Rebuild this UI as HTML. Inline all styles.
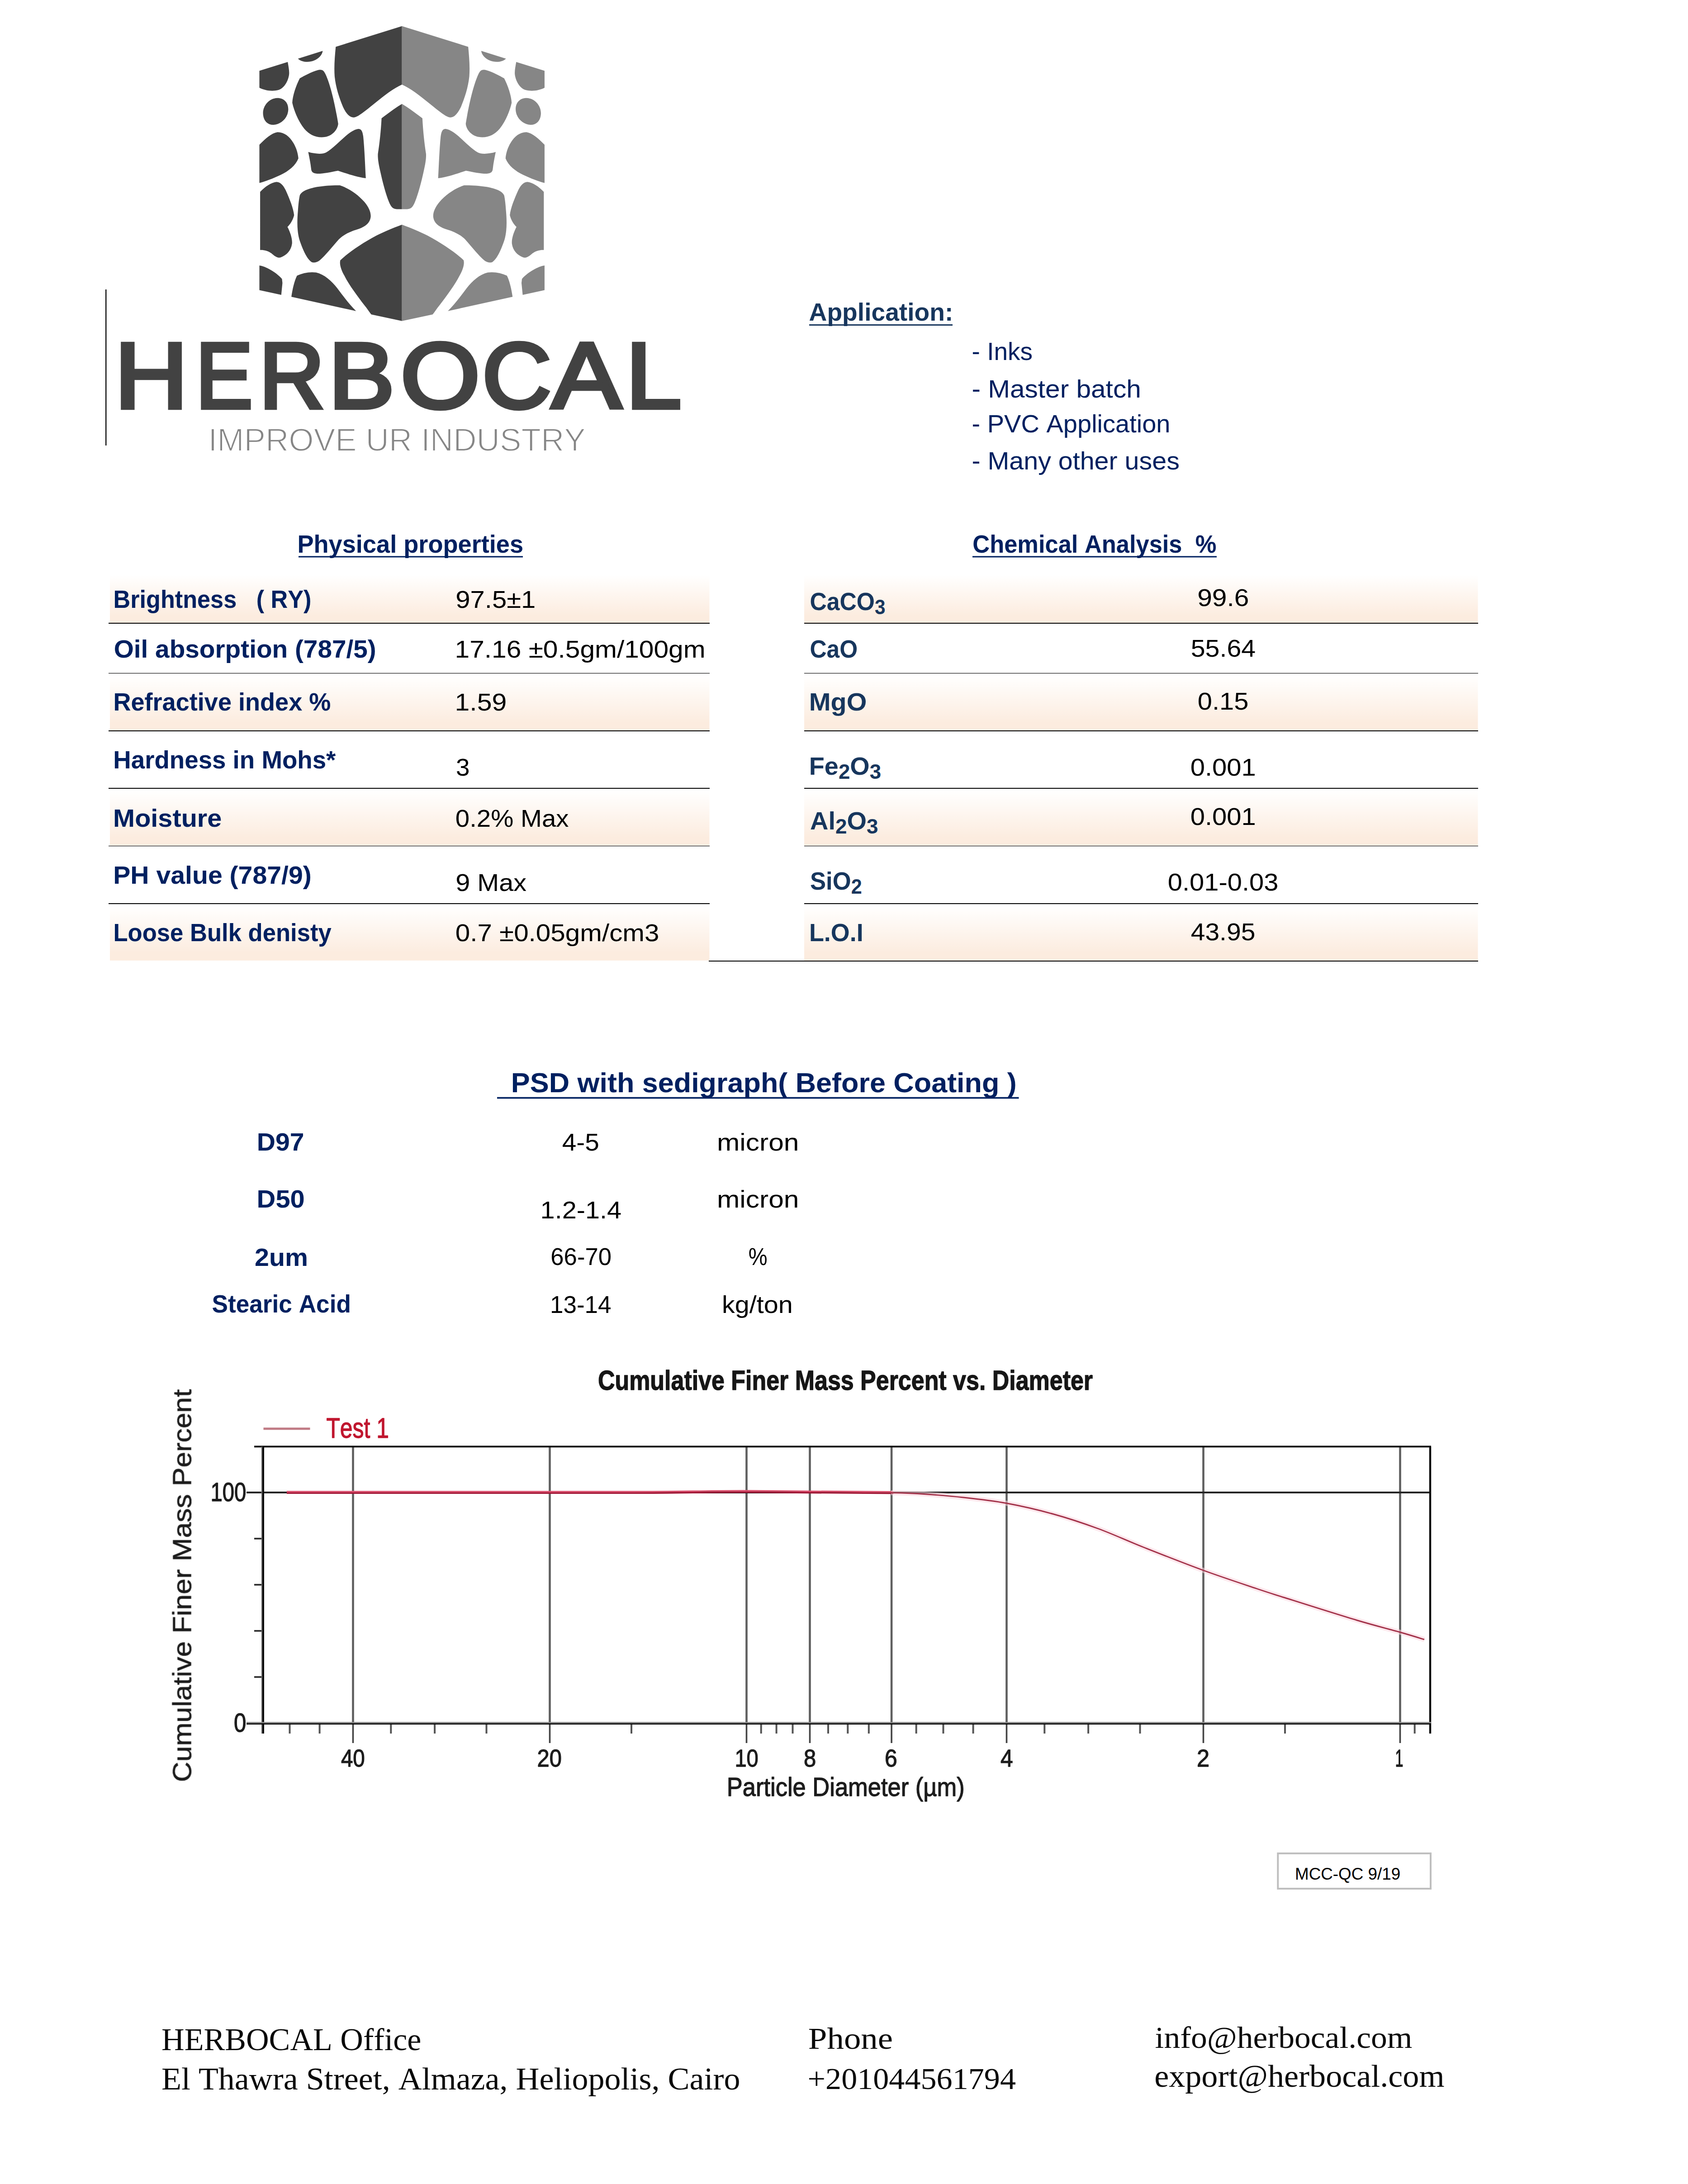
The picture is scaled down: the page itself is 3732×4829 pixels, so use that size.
<!DOCTYPE html>
<html lang="en"><head><meta charset="utf-8"><title>HERBOCAL data sheet</title>
<style>
html,body{margin:0;padding:0;background:#fff}
body{width:3732px;height:4829px;position:relative;overflow:hidden}
svg{position:absolute;left:0;top:0;display:block}
text{font-family:"Liberation Sans",sans-serif;font-kerning:none;white-space:pre}
text.sf{font-family:"Liberation Serif",serif}
.ch text{paint-order:stroke;stroke-width:1.3px;stroke-linejoin:round}
</style></head><body>
<svg width="3732" height="4829" viewBox="0 0 3732 4829">
<defs>
<linearGradient id="gr" x1="0" y1="0" x2="0" y2="1"><stop offset="0" stop-color="#ffffff"/><stop offset="0.06" stop-color="#fffefd"/><stop offset="0.86" stop-color="#fcecdf"/><stop offset="1" stop-color="#fcecdf"/></linearGradient>
<filter id="bl" x="-2%" y="-2%" width="104%" height="104%"><feGaussianBlur stdDeviation="0.55"/></filter>
</defs>
<g transform="translate(560 40) scale(0.201422)">
<path fill="#424242" d="M67,578 L378,482 C388,540 398,590 392,625 C380,700 335,770 275,790 C200,810 120,792 67,765 Z M490,445 L762,360 C758,400 720,445 665,467 C600,492 525,480 490,445 Z M905,315 L1632,88 L1632,730 C1540,770 1440,850 1340,930 C1240,1010 1160,1080 1110,1090 C1060,1095 1020,1050 985,975 C945,880 905,760 893,640 C885,530 895,420 905,315 Z M107,1045 C105,960 175,880 262,877 C340,876 386,930 384,1005 C380,1100 300,1170 220,1172 C150,1172 108,1120 107,1045 Z M510,662 C580,620 680,572 730,567 C765,565 778,585 795,620 C850,740 900,960 932,1160 C925,1225 870,1290 790,1305 C700,1320 620,1285 560,1215 C500,1140 450,1030 428,930 C432,850 470,740 510,662 Z M67,1390 C130,1325 200,1262 265,1252 C335,1250 395,1295 440,1370 C470,1420 490,1480 495,1540 C465,1620 385,1680 300,1722 C220,1760 130,1795 67,1810 Z M603,1470 C680,1492 760,1497 800,1475 C870,1435 950,1350 1020,1290 C1080,1240 1130,1215 1162,1217 C1190,1222 1200,1250 1207,1300 C1222,1450 1227,1620 1235,1758 C1130,1745 1020,1705 930,1675 C850,1690 760,1710 700,1708 C655,1704 638,1690 635,1655 C628,1590 615,1530 603,1470 Z M1408,1100 C1480,1045 1560,985 1632,942 L1632,2098 L1575,2098 C1530,2095 1510,2070 1490,2020 C1450,1920 1420,1800 1395,1688 C1375,1600 1365,1540 1368,1490 C1385,1380 1400,1250 1408,1100 Z M75,1908 C130,1848 200,1803 255,1798 C300,1800 330,1838 355,1888 C400,1988 440,2088 448,2163 C435,2218 405,2263 375,2293 C410,2358 430,2428 425,2478 C415,2548 370,2603 300,2628 C260,2638 230,2608 200,2583 C160,2553 110,2543 75,2546 Z M510,1948 C530,1898 600,1873 700,1853 C800,1838 900,1833 950,1836 C1050,1868 1150,1938 1220,2018 C1270,2078 1295,2138 1288,2188 C1280,2248 1230,2288 1160,2313 C1080,2338 1000,2368 940,2428 C860,2518 790,2608 730,2658 C700,2683 660,2688 640,2678 C590,2648 540,2538 505,2428 C480,2338 480,2228 490,2118 C495,2048 500,1998 510,1948 Z M1632,2268 L1632,3325 L1295,3253 C1270,3223 1250,3188 1220,3153 C1140,3048 1050,2928 1000,2828 C960,2758 945,2698 955,2658 C1050,2568 1200,2468 1350,2388 C1450,2338 1550,2298 1632,2268 Z M67,2716 C130,2723 250,2788 315,2863 L320,2908 L307,3038 L67,2986 Z M418,3060 C430,2978 450,2888 480,2828 C540,2798 620,2783 690,2793 C780,2813 860,2888 920,2963 C990,3058 1060,3148 1128,3216 Z"/>
<path fill="#868686" transform="translate(3264 0) scale(-1 1)" d="M67,578 L378,482 C388,540 398,590 392,625 C380,700 335,770 275,790 C200,810 120,792 67,765 Z M490,445 L762,360 C758,400 720,445 665,467 C600,492 525,480 490,445 Z M905,315 L1632,88 L1632,730 C1540,770 1440,850 1340,930 C1240,1010 1160,1080 1110,1090 C1060,1095 1020,1050 985,975 C945,880 905,760 893,640 C885,530 895,420 905,315 Z M107,1045 C105,960 175,880 262,877 C340,876 386,930 384,1005 C380,1100 300,1170 220,1172 C150,1172 108,1120 107,1045 Z M510,662 C580,620 680,572 730,567 C765,565 778,585 795,620 C850,740 900,960 932,1160 C925,1225 870,1290 790,1305 C700,1320 620,1285 560,1215 C500,1140 450,1030 428,930 C432,850 470,740 510,662 Z M67,1390 C130,1325 200,1262 265,1252 C335,1250 395,1295 440,1370 C470,1420 490,1480 495,1540 C465,1620 385,1680 300,1722 C220,1760 130,1795 67,1810 Z M603,1470 C680,1492 760,1497 800,1475 C870,1435 950,1350 1020,1290 C1080,1240 1130,1215 1162,1217 C1190,1222 1200,1250 1207,1300 C1222,1450 1227,1620 1235,1758 C1130,1745 1020,1705 930,1675 C850,1690 760,1710 700,1708 C655,1704 638,1690 635,1655 C628,1590 615,1530 603,1470 Z M1408,1100 C1480,1045 1560,985 1632,942 L1632,2098 L1575,2098 C1530,2095 1510,2070 1490,2020 C1450,1920 1420,1800 1395,1688 C1375,1600 1365,1540 1368,1490 C1385,1380 1400,1250 1408,1100 Z M75,1908 C130,1848 200,1803 255,1798 C300,1800 330,1838 355,1888 C400,1988 440,2088 448,2163 C435,2218 405,2263 375,2293 C410,2358 430,2428 425,2478 C415,2548 370,2603 300,2628 C260,2638 230,2608 200,2583 C160,2553 110,2543 75,2546 Z M510,1948 C530,1898 600,1873 700,1853 C800,1838 900,1833 950,1836 C1050,1868 1150,1938 1220,2018 C1270,2078 1295,2138 1288,2188 C1280,2248 1230,2288 1160,2313 C1080,2338 1000,2368 940,2428 C860,2518 790,2608 730,2658 C700,2683 660,2688 640,2678 C590,2648 540,2538 505,2428 C480,2338 480,2228 490,2118 C495,2048 500,1998 510,1948 Z M1632,2268 L1632,3325 L1295,3253 C1270,3223 1250,3188 1220,3153 C1140,3048 1050,2928 1000,2828 C960,2758 945,2698 955,2658 C1050,2568 1200,2468 1350,2388 C1450,2338 1550,2298 1632,2268 Z M67,2716 C130,2723 250,2788 315,2863 L320,2908 L307,3038 L67,2986 Z M418,3060 C430,2978 450,2888 480,2828 C540,2798 620,2783 690,2793 C780,2813 860,2888 920,2963 C990,3058 1060,3148 1128,3216 Z"/>
</g>
<rect x="233" y="640" width="2.5" height="345" fill="#111"/>
<text y="901.7" font-size="205.5" fill="#424242" stroke="#424242" stroke-width="8.6" stroke-linejoin="miter"><tspan x="253.4" textLength="162.1" lengthAdjust="spacingAndGlyphs">H</tspan><tspan x="432.8" textLength="126.0" lengthAdjust="spacingAndGlyphs">E</tspan><tspan x="572.9" textLength="144.6" lengthAdjust="spacingAndGlyphs">R</tspan><tspan x="726.4" textLength="145.9" lengthAdjust="spacingAndGlyphs">B</tspan><tspan x="885.6" textLength="175.9" lengthAdjust="spacingAndGlyphs">O</tspan><tspan x="1066.1" textLength="152.7" lengthAdjust="spacingAndGlyphs">C</tspan><tspan x="1219.8" textLength="153.8" lengthAdjust="spacingAndGlyphs">A</tspan><tspan x="1383.7" textLength="122.9" lengthAdjust="spacingAndGlyphs">L</tspan></text>
<text transform="translate(460.4 996.5) scale(1.0099 1)" font-size="70.5" fill="#868686" stroke="#fff" stroke-width="1.9">IMPROVE UR INDUSTRY</text>
<text transform="translate(1788.6 709.0) scale(0.9850 1)" font-size="56.0" font-weight="bold" fill="#17365d">Application:</text>
<rect x="1789" y="717" width="317" height="3" fill="#17365d"/>
<text transform="translate(2148.6 796.0) scale(0.9819 1)" font-size="56.0" fill="#002060">- Inks</text>
<text transform="translate(2148.4 879.0) scale(1.0461 1)" font-size="56.0" fill="#002060">- Master batch</text>
<text transform="translate(2148.5 956.0) scale(1.0006 1)" font-size="56.0" fill="#002060">- PVC Application</text>
<text transform="translate(2148.4 1037.5) scale(1.0255 1)" font-size="56.0" fill="#002060">- Many other uses</text>
<rect x="243" y="1270.0" width="1325.5" height="106.8" fill="url(#gr)"/><rect x="1778" y="1270.0" width="1489.5" height="106.8" fill="url(#gr)"/>
<rect x="243" y="1492.5" width="1325.5" height="122.3" fill="url(#gr)"/><rect x="1778" y="1492.5" width="1489.5" height="122.3" fill="url(#gr)"/>
<rect x="243" y="1747.0" width="1325.5" height="122.3" fill="url(#gr)"/><rect x="1778" y="1747.0" width="1489.5" height="122.3" fill="url(#gr)"/>
<rect x="243" y="2002.0" width="1325.5" height="121.8" fill="url(#gr)"/><rect x="1778" y="2002.0" width="1489.5" height="121.8" fill="url(#gr)"/>
<rect x="240" y="1377.0" width="1329" height="2.0" fill="#000"/><rect x="1778" y="1377.0" width="1490" height="2.0" fill="#000"/>
<rect x="240" y="1488.0" width="1329" height="1.1" fill="#000"/><rect x="1778" y="1488.0" width="1490" height="1.1" fill="#000"/>
<rect x="240" y="1615.0" width="1329" height="2.0" fill="#000"/><rect x="1778" y="1615.0" width="1490" height="2.0" fill="#000"/>
<rect x="240" y="1742.0" width="1329" height="2.0" fill="#000"/><rect x="1778" y="1742.0" width="1490" height="2.0" fill="#000"/>
<rect x="240" y="1870.0" width="1329" height="1.1" fill="#000"/><rect x="1778" y="1870.0" width="1490" height="1.1" fill="#000"/>
<rect x="240" y="1997.0" width="1329" height="2.0" fill="#000"/><rect x="1778" y="1997.0" width="1490" height="2.0" fill="#000"/>
<rect x="1567" y="2124" width="1701" height="2" fill="#000"/>
<text transform="translate(657.4 1221.5) scale(0.9675 1)" font-size="56.0" font-weight="bold" fill="#002060">Physical properties</text>
<rect x="660" y="1229.5" width="496" height="3" fill="#002060"/>
<text transform="translate(2150.3 1221.5) scale(0.9361 1)" font-size="56.0" font-weight="bold" fill="#002060">Chemical Analysis  %</text>
<rect x="2150" y="1229.5" width="540" height="3" fill="#002060"/>
<text transform="translate(250.5 1343.5) scale(0.9325 1)" font-size="56.0" font-weight="bold" fill="#002060">Brightness   ( RY)</text>
<text transform="translate(251.7 1454.0) scale(1.0133 1)" font-size="56.0" font-weight="bold" fill="#002060">Oil absorption (787/5)</text>
<text transform="translate(250.4 1571.0) scale(0.9660 1)" font-size="56.0" font-weight="bold" fill="#002060">Refractive index %</text>
<text transform="translate(250.3 1698.5) scale(0.9764 1)" font-size="56.0" font-weight="bold" fill="#002060">Hardness in Mohs*</text>
<text transform="translate(250.1 1827.5) scale(1.0299 1)" font-size="56.0" font-weight="bold" fill="#002060">Moisture</text>
<text transform="translate(250.2 1953.5) scale(1.0213 1)" font-size="56.0" font-weight="bold" fill="#002060">PH value (787/9)</text>
<text transform="translate(250.5 2081.0) scale(0.9394 1)" font-size="56.0" font-weight="bold" fill="#002060">Loose Bulk denisty</text>
<text transform="translate(1007.3 1343.5) scale(1.0746 1)" font-size="54.0" fill="#000">97.5±1</text>
<text transform="translate(1005.5 1454.0) scale(1.0870 1)" font-size="54.0" fill="#000">17.16 ±0.5gm/100gm</text>
<text transform="translate(1005.5 1571.0) scale(1.0922 1)" font-size="54.0" fill="#000">1.59</text>
<text transform="translate(1007.9 1715.0) scale(1.0155 1)" font-size="54.0" fill="#000">3</text>
<text transform="translate(1006.8 1827.5) scale(1.0446 1)" font-size="54.0" fill="#000">0.2% Max</text>
<text transform="translate(1007.3 1970.0) scale(1.0664 1)" font-size="54.0" fill="#000">9 Max</text>
<text transform="translate(1006.7 2081.0) scale(1.0816 1)" font-size="54.0" fill="#000">0.7 ±0.05gm/cm3</text>
<text transform="translate(1790.4 1349.0) scale(0.9229 1)" font-size="56.0" font-weight="bold" fill="#17365d"><tspan font-size="56.0" dy="0.0">CaCO</tspan><tspan font-size="45.9" dy="9.0">3</tspan></text>
<text transform="translate(1790.4 1454.0) scale(0.9186 1)" font-size="56.0" font-weight="bold" fill="#17365d">CaO</text>
<text transform="translate(1788.7 1571.0) scale(1.0269 1)" font-size="56.0" font-weight="bold" fill="#17365d">MgO</text>
<text transform="translate(1788.8 1713.0) scale(0.9962 1)" font-size="56.0" font-weight="bold" fill="#17365d"><tspan font-size="56.0" dy="0.0">Fe</tspan><tspan font-size="45.9" dy="9.0">2</tspan><tspan font-size="56.0" dy="-9.0">O</tspan><tspan font-size="45.9" dy="9.0">3</tspan></text>
<text transform="translate(1791.1 1834.0) scale(0.9994 1)" font-size="56.0" font-weight="bold" fill="#17365d"><tspan font-size="56.0" dy="0.0">Al</tspan><tspan font-size="45.9" dy="9.0">2</tspan><tspan font-size="56.0" dy="-9.0">O</tspan><tspan font-size="45.9" dy="9.0">3</tspan></text>
<text transform="translate(1791.0 1966.5) scale(0.9405 1)" font-size="56.0" font-weight="bold" fill="#17365d"><tspan font-size="56.0" dy="0.0">SiO</tspan><tspan font-size="45.9" dy="9.0">2</tspan></text>
<text transform="translate(1788.9 2081.0) scale(0.9620 1)" font-size="56.0" font-weight="bold" fill="#17365d">L.O.I</text>
<text transform="translate(2647.2 1340.0) scale(1.0879 1)" font-size="54.0" fill="#000">99.6</text>
<text transform="translate(2632.7 1452.0) scale(1.0617 1)" font-size="54.0" fill="#000">55.64</text>
<text transform="translate(2647.7 1569.0) scale(1.0723 1)" font-size="54.0" fill="#000">0.15</text>
<text transform="translate(2631.7 1715.0) scale(1.0737 1)" font-size="54.0" fill="#000">0.001</text>
<text transform="translate(2631.7 1824.0) scale(1.0737 1)" font-size="54.0" fill="#000">0.001</text>
<text transform="translate(2581.7 1969.0) scale(1.0729 1)" font-size="54.0" fill="#000">0.01-0.03</text>
<text transform="translate(2632.7 2079.0) scale(1.0560 1)" font-size="54.0" fill="#000">43.95</text>
<text transform="translate(1129.8 2415.0) scale(1.0228 1)" font-size="61.5" font-weight="bold" fill="#002060">PSD with sedigraph( Before Coating )</text>
<rect x="1099" y="2425.7" width="1153.5" height="3.6" fill="#002060"/>
<text transform="translate(567.7 2543.5) scale(1.0205 1)" font-size="56.0" font-weight="bold" fill="#002060">D97</text>
<text transform="translate(567.6 2670.0) scale(1.0343 1)" font-size="56.0" font-weight="bold" fill="#002060">D50</text>
<text transform="translate(563.0 2798.5) scale(1.0252 1)" font-size="56.0" font-weight="bold" fill="#002060">2um</text>
<text transform="translate(468.5 2901.5) scale(0.9501 1)" font-size="56.0" font-weight="bold" fill="#002060">Stearic Acid</text>
<text transform="translate(1242.7 2543.5) scale(1.0531 1)" font-size="54.0" fill="#000">4-5</text>
<text transform="translate(1194.6 2694.0) scale(1.0682 1)" font-size="54.0" fill="#000">1.2-1.4</text>
<text transform="translate(1217.3 2796.5) scale(0.9755 1)" font-size="54.0" fill="#000">66-70</text>
<text transform="translate(1216.0 2902.5) scale(0.9818 1)" font-size="54.0" fill="#000">13-14</text>
<text transform="translate(1585.0 2543.5) scale(1.1198 1)" font-size="54.0" fill="#000">micron</text>
<text transform="translate(1585.0 2670.0) scale(1.1198 1)" font-size="54.0" fill="#000">micron</text>
<text transform="translate(1654.8 2796.5) scale(0.8717 1)" font-size="54.0" fill="#000">%</text>
<text transform="translate(1596.1 2902.5) scale(1.0646 1)" font-size="54.0" fill="#000">kg/ton</text>
<g filter="url(#bl)" class="ch">
<rect x="778.2" y="3198.5" width="4.6" height="612.5" fill="#5e5e5e"/><rect x="778.7" y="3811" width="3.6" height="43" fill="#444"/><rect x="1213.2" y="3198.5" width="4.6" height="612.5" fill="#5e5e5e"/><rect x="1213.7" y="3811" width="3.6" height="43" fill="#444"/><rect x="1648.2" y="3198.5" width="4.6" height="612.5" fill="#5e5e5e"/><rect x="1648.7" y="3811" width="3.6" height="43" fill="#444"/><rect x="1788.2" y="3198.5" width="4.6" height="612.5" fill="#5e5e5e"/><rect x="1788.7" y="3811" width="3.6" height="43" fill="#444"/><rect x="1968.8" y="3198.5" width="4.6" height="612.5" fill="#5e5e5e"/><rect x="1969.3" y="3811" width="3.6" height="43" fill="#444"/><rect x="2223.2" y="3198.5" width="4.6" height="612.5" fill="#5e5e5e"/><rect x="2223.7" y="3811" width="3.6" height="43" fill="#444"/><rect x="2658.2" y="3198.5" width="4.6" height="612.5" fill="#5e5e5e"/><rect x="2658.7" y="3811" width="3.6" height="43" fill="#444"/><rect x="3093.2" y="3198.5" width="4.6" height="612.5" fill="#5e5e5e"/><rect x="3093.7" y="3811" width="3.6" height="43" fill="#444"/>
<rect x="638.5" y="3810.0" width="4" height="23.0" fill="#555"/><rect x="704.6" y="3810.0" width="4" height="23.0" fill="#555"/><rect x="862.3" y="3810.0" width="4" height="23.0" fill="#555"/><rect x="959.1" y="3810.0" width="4" height="23.0" fill="#555"/><rect x="1073.5" y="3810.0" width="4" height="23.0" fill="#555"/><rect x="1394.0" y="3810.0" width="4" height="23.0" fill="#555"/><rect x="1680.7" y="3810.0" width="4" height="23.0" fill="#555"/><rect x="1714.6" y="3810.0" width="4" height="23.0" fill="#555"/><rect x="1750.5" y="3810.0" width="4" height="23.0" fill="#555"/><rect x="1829.0" y="3810.0" width="4" height="23.0" fill="#555"/><rect x="1872.3" y="3810.0" width="4" height="23.0" fill="#555"/><rect x="1918.8" y="3810.0" width="4" height="23.0" fill="#555"/><rect x="2023.7" y="3810.0" width="4" height="23.0" fill="#555"/><rect x="2083.5" y="3810.0" width="4" height="23.0" fill="#555"/><rect x="2149.6" y="3810.0" width="4" height="23.0" fill="#555"/><rect x="2307.3" y="3810.0" width="4" height="23.0" fill="#555"/><rect x="2404.1" y="3810.0" width="4" height="23.0" fill="#555"/><rect x="2518.5" y="3810.0" width="4" height="23.0" fill="#555"/><rect x="2839.0" y="3810.0" width="4" height="23.0" fill="#555"/><rect x="3125.7" y="3810.0" width="4" height="23.0" fill="#555"/>
<rect x="562" y="3706.2" width="22" height="3.6" fill="#2a2a2a"/><rect x="562" y="3604.2" width="22" height="3.6" fill="#2a2a2a"/><rect x="562" y="3502.2" width="22" height="3.6" fill="#2a2a2a"/><rect x="562" y="3400.2" width="22" height="3.6" fill="#2a2a2a"/>
<rect x="545" y="3298.0" width="2617.0" height="4" fill="#262626"/>
<rect x="562" y="3196.6" width="2602.0" height="3.8" fill="#111"/><rect x="578" y="3198.5" width="2.2" height="634.5" fill="#666"/><rect x="580" y="3198.5" width="4" height="634.5" fill="#111"/><rect x="3159.8" y="3198.5" width="4.4" height="634.5" fill="#111"/><rect x="545" y="3807.4" width="2619.0" height="3" fill="#8a8a8a"/><rect x="545" y="3810.2" width="2619.0" height="2.9" fill="#111"/>
<path d="M634,3298.3 L1400,3298.3 C1500,3298.3 1560,3296.3 1650,3296.3 C1740,3296.3 1850,3298.3 1975,3298.8" fill="none" stroke="#d8506c" stroke-width="3.4"/>
<path d="M634,3301.5 L1400,3301.5 C1500,3301.5 1560,3299.5 1650,3299.5 C1740,3299.5 1850,3301.5 1975,3302.0" fill="none" stroke="#a01834" stroke-width="3.2"/>
<path d="M1970.0,3300.5 C1979.7,3300.8 2001.3,3300.8 2028.0,3302.5 C2054.7,3304.2 2096.9,3307.4 2130.0,3311.0 C2163.1,3314.6 2193.5,3317.9 2226.5,3324.0 C2259.5,3330.1 2294.4,3338.2 2328.0,3347.5 C2361.6,3356.8 2394.7,3367.8 2428.0,3380.0 C2461.3,3392.2 2489.3,3405.7 2528.0,3421.0 C2566.7,3436.3 2618.3,3456.8 2660.0,3472.0 C2701.7,3487.2 2748.0,3502.4 2778.0,3512.5 C2808.0,3522.6 2803.0,3520.8 2840.0,3532.5 C2877.0,3544.2 2957.4,3569.8 3000.0,3582.5 C3042.6,3595.2 3070.7,3601.9 3095.5,3609.0 C3120.3,3616.1 3140.1,3622.3 3149.0,3625.0" fill="none" stroke="#fbd3dc" stroke-width="11" opacity="0.55"/>
<path d="M1970.0,3300.5 C1979.7,3300.8 2001.3,3300.8 2028.0,3302.5 C2054.7,3304.2 2096.9,3307.4 2130.0,3311.0 C2163.1,3314.6 2193.5,3317.9 2226.5,3324.0 C2259.5,3330.1 2294.4,3338.2 2328.0,3347.5 C2361.6,3356.8 2394.7,3367.8 2428.0,3380.0 C2461.3,3392.2 2489.3,3405.7 2528.0,3421.0 C2566.7,3436.3 2618.3,3456.8 2660.0,3472.0 C2701.7,3487.2 2748.0,3502.4 2778.0,3512.5 C2808.0,3522.6 2803.0,3520.8 2840.0,3532.5 C2877.0,3544.2 2957.4,3569.8 3000.0,3582.5 C3042.6,3595.2 3070.7,3601.9 3095.5,3609.0 C3120.3,3616.1 3140.1,3622.3 3149.0,3625.0" fill="none" stroke="#a2324a" stroke-width="2.9"/>
<rect x="582.5" y="3156.5" width="103" height="5" fill="#c07a84"/>
<text transform="translate(721.4 3179.0) scale(0.8042 1)" font-size="62.0" fill="#c0142f" stroke="#c0142f">Test 1</text>
<text transform="translate(1321.9 3072.5) scale(0.8407 1)" font-size="61.8" font-weight="bold" fill="#151515" stroke="#151515">Cumulative Finer Mass Percent vs. Diameter</text>
<text transform="translate(465.4 3319.0) scale(0.8375 1)" font-size="56.5" fill="#1c1c1c" stroke="#1c1c1c">100</text>
<text transform="translate(517.1 3829.0) scale(0.8701 1)" font-size="56.5" fill="#1c1c1c" stroke="#1c1c1c">0</text>
<text transform="translate(753.9 3905.5) scale(0.8865 1)" font-size="53.7" fill="#1c1c1c" stroke="#1c1c1c">40</text>
<text transform="translate(1187.5 3905.5) scale(0.9102 1)" font-size="53.7" fill="#1c1c1c" stroke="#1c1c1c">20</text>
<text transform="translate(1624.4 3905.5) scale(0.8778 1)" font-size="53.7" fill="#1c1c1c" stroke="#1c1c1c">10</text>
<text transform="translate(1776.9 3905.5) scale(0.9128 1)" font-size="53.7" fill="#1c1c1c" stroke="#1c1c1c">8</text>
<text transform="translate(1956.0 3905.5) scale(0.9282 1)" font-size="53.7" fill="#1c1c1c" stroke="#1c1c1c">6</text>
<text transform="translate(2211.9 3905.5) scale(0.9239 1)" font-size="53.7" fill="#1c1c1c" stroke="#1c1c1c">4</text>
<text transform="translate(2646.0 3905.5) scale(0.9402 1)" font-size="53.7" fill="#1c1c1c" stroke="#1c1c1c">2</text>
<text transform="translate(3084.5 3905.5) scale(0.6047 1)" font-size="53.7" fill="#1c1c1c" stroke="#1c1c1c">1</text>
<text transform="translate(1606.7 3971.0) scale(0.9145 1)" font-size="57.4" fill="#1c1c1c" stroke="#1c1c1c">Particle Diameter (µm)</text>
<g transform="translate(422.5 3937) rotate(-90)"><text transform="translate(-3.2 0.0) scale(1.0736 1)" font-size="58.0" fill="#1c1c1c" stroke="#1c1c1c" style="stroke-width:0.7px">Cumulative Finer Mass Percent</text></g>
</g>
<rect x="2825.3" y="4098" width="337.7" height="78" fill="#fff" stroke="#bfbfbf" stroke-width="4"/>
<text transform="translate(2863.0 4156.0) scale(0.9899 1)" font-size="37.2" fill="#000">MCC-QC 9/19</text>
<text transform="translate(357.0 4532.5) scale(1.0206 1)" font-size="68.7" class="sf" fill="#0a0a0a">HERBOCAL Office</text>
<text transform="translate(356.9 4620.0) scale(1.0482 1)" font-size="68.7" class="sf" fill="#0a0a0a">El Thawra Street, Almaza, Heliopolis, Cairo</text>
<text transform="translate(1786.8 4530.0) scale(1.0903 1)" font-size="68.7" class="sf" fill="#0a0a0a">Phone</text>
<text transform="translate(1785.5 4618.5) scale(1.0214 1)" font-size="68.7" class="sf" fill="#0a0a0a">+201044561794</text>
<text transform="translate(2553.5 4527.5) scale(1.0426 1)" font-size="68.7" class="sf" fill="#0a0a0a">info@herbocal.com</text>
<text transform="translate(2552.2 4614.0) scale(1.0503 1)" font-size="68.7" class="sf" fill="#0a0a0a">export@herbocal.com</text>
</svg>
</body></html>
